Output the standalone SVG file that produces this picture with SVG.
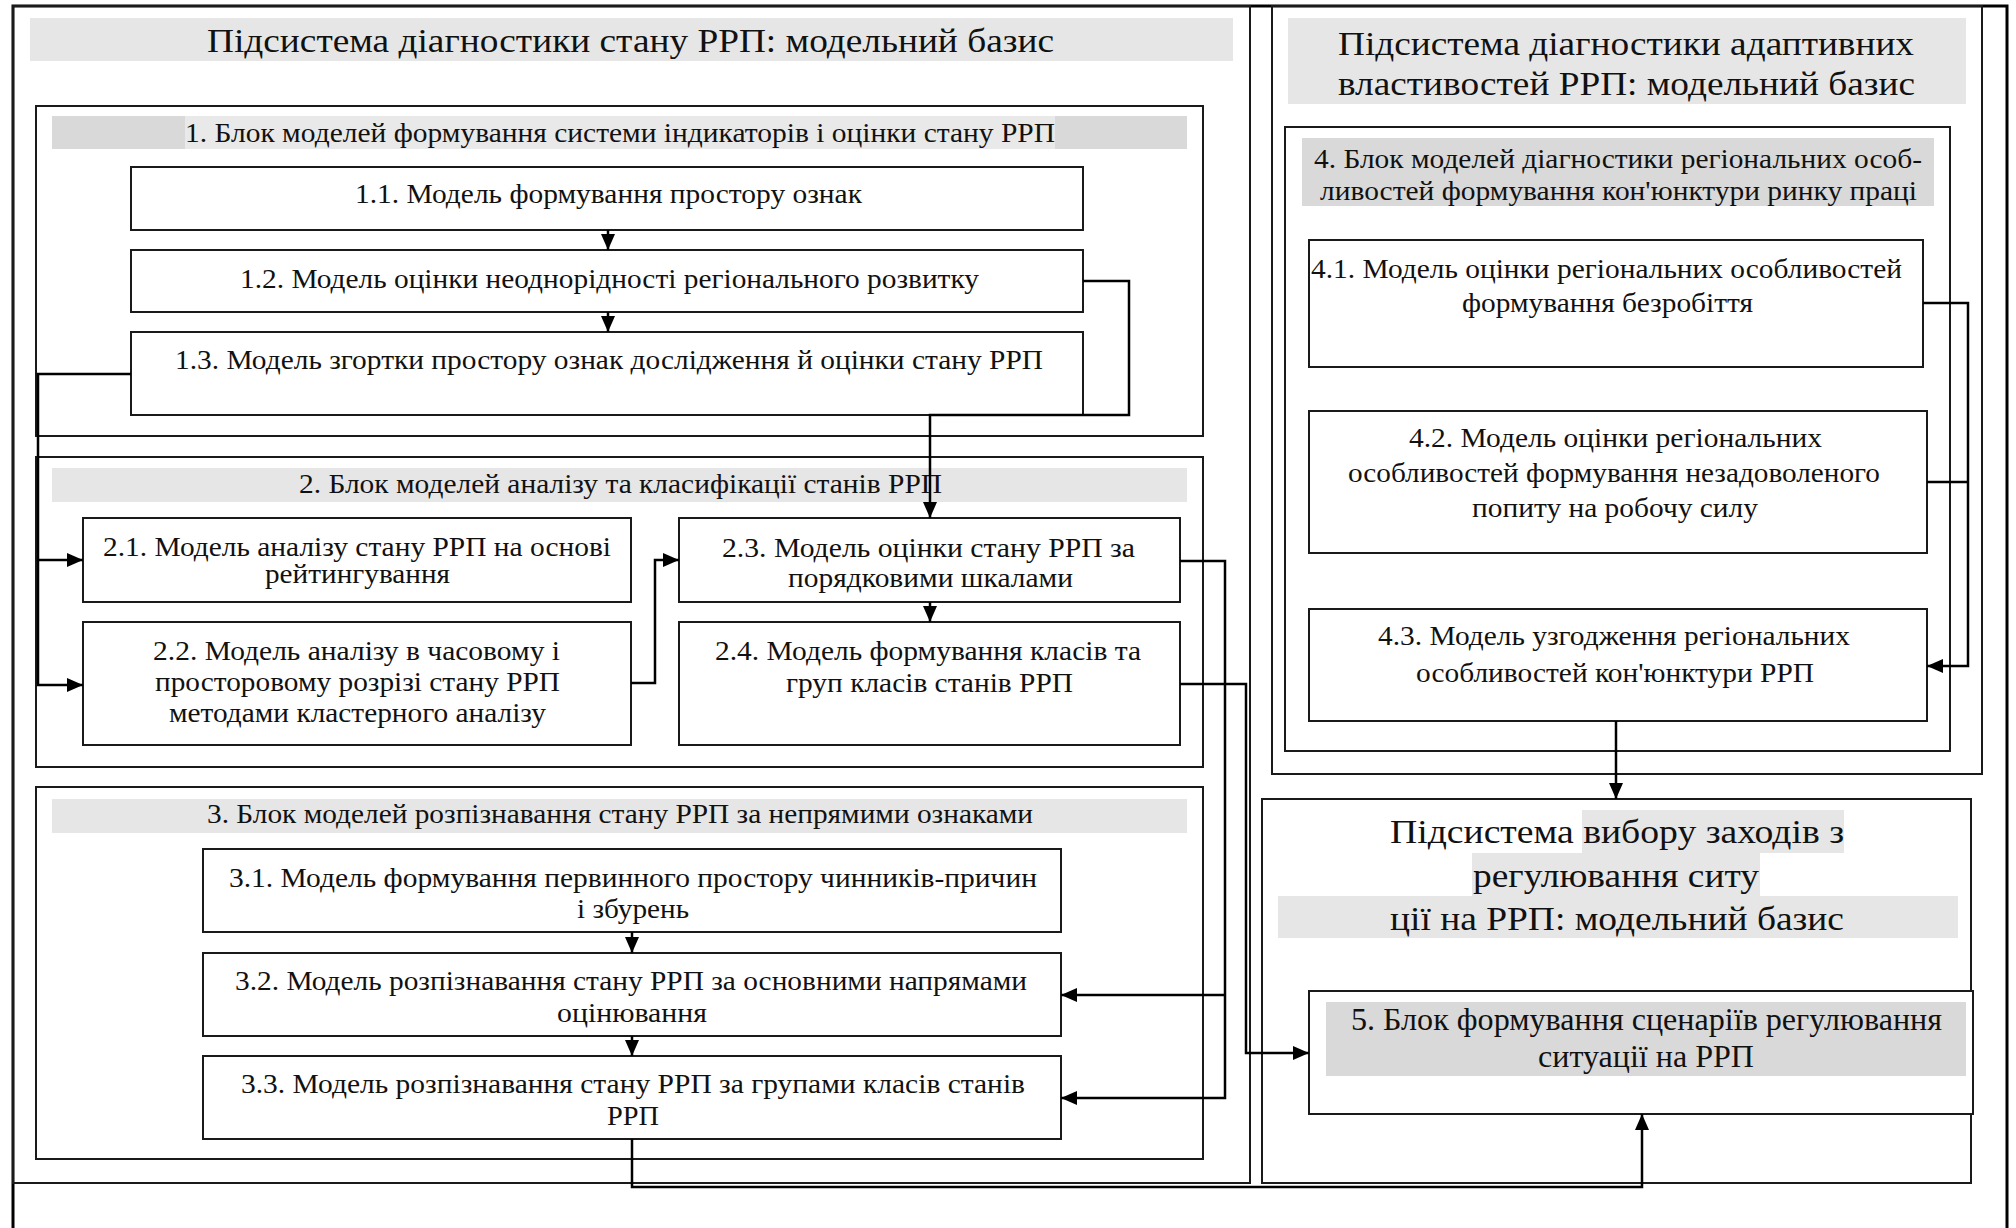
<svg xmlns="http://www.w3.org/2000/svg" width="2016" height="1228" viewBox="0 0 2016 1228">
<defs>
<style>
text{font-family:"Liberation Serif","Times New Roman",serif;fill:#111;text-anchor:middle}
.t{font-size:34px}
.b{font-size:27px}
.r{font-size:28px}
.f{font-size:31px}
.box{fill:#fff;stroke:#1a1a1a;stroke-width:2}
.blk{fill:none;stroke:#1a1a1a;stroke-width:2}
.g1{fill:#e6e6e6}
.g2{fill:#d9d9d9}
.g3{fill:#e9e9e9}
.c{fill:none;stroke:#000;stroke-width:2.5}
.ca{fill:none;stroke:#000;stroke-width:2.5;marker-end:url(#ah)}
</style>
<marker id="ah" markerUnits="userSpaceOnUse" markerWidth="16" markerHeight="14" refX="16" refY="7" orient="auto"><path d="M0,0 L16,7 L0,14 z" fill="#000"/></marker>
</defs>
<rect width="2016" height="1228" fill="#fff"/>

<g id="frame">
<path d="M13,1228 V6 H2007 V1228" fill="none" stroke="#000" stroke-width="3"/>
</g>

<g id="subsystem-left">
<rect class="blk" x="13" y="6" width="1237" height="1177"/>
<rect class="g1" x="30" y="18" width="1203" height="43"/>
<text class="t" x="630.5" y="52" textLength="847" lengthAdjust="spacingAndGlyphs">Підсистема діагностики стану РРП: модельний базис</text>
</g>

<g id="block1">
<rect class="blk" x="36" y="106" width="1167" height="330"/>
<rect class="g2" x="52" y="116" width="1135" height="33"/>
<rect class="g3" x="185" y="116" width="870" height="33"/>
<text class="b" x="620" y="142" textLength="870" lengthAdjust="spacingAndGlyphs">1. Блок моделей формування системи індикаторів і оцінки стану РРП</text>
</g>
<g id="n11"><rect class="box" x="131" y="167" width="952" height="63"/><text class="b" x="608.5" y="203" textLength="507" lengthAdjust="spacingAndGlyphs">1.1. Модель формування простору ознак</text></g>
<g id="n12"><rect class="box" x="131" y="250" width="952" height="62"/><text class="b" x="609.5" y="288" textLength="739" lengthAdjust="spacingAndGlyphs">1.2. Модель оцінки неоднорідності регіонального розвитку</text></g>
<g id="n13"><rect class="box" x="131" y="332" width="952" height="83"/><text class="b" x="609" y="369" textLength="868" lengthAdjust="spacingAndGlyphs">1.3. Модель згортки простору ознак дослідження й оцінки стану РРП</text></g>

<g id="block2">
<rect class="blk" x="36" y="457" width="1167" height="310"/>
<rect class="g1" x="52" y="468" width="1135" height="34"/>
<text class="b" x="620.5" y="493" textLength="643" lengthAdjust="spacingAndGlyphs">2. Блок моделей аналізу та класифікації станів РРП</text>
</g>
<g id="n21"><rect class="box" x="83" y="518" width="548" height="84"/><text class="b" x="357" y="556" textLength="508" lengthAdjust="spacingAndGlyphs">2.1. Модель аналізу стану РРП на основі</text><text class="b" x="357.5" y="583" textLength="185" lengthAdjust="spacingAndGlyphs">рейтингування</text></g>
<g id="n22"><rect class="box" x="83" y="622" width="548" height="123"/><text class="b" x="356.5" y="660" textLength="407" lengthAdjust="spacingAndGlyphs">2.2. Модель аналізу в часовому і</text><text class="b" x="357.5" y="691" textLength="405" lengthAdjust="spacingAndGlyphs">просторовому розрізі стану РРП</text><text class="b" x="357.5" y="722" textLength="377" lengthAdjust="spacingAndGlyphs">методами кластерного аналізу</text></g>
<g id="n23"><rect class="box" x="679" y="518" width="501" height="84"/><text class="b" x="928.5" y="557" textLength="413" lengthAdjust="spacingAndGlyphs">2.3. Модель оцінки стану РРП за</text><text class="b" x="930.5" y="587" textLength="285" lengthAdjust="spacingAndGlyphs">порядковими шкалами</text></g>
<g id="n24"><rect class="box" x="679" y="622" width="501" height="123"/><text class="b" x="928" y="660" textLength="426" lengthAdjust="spacingAndGlyphs">2.4. Модель формування класів та</text><text class="b" x="929.5" y="692" textLength="287" lengthAdjust="spacingAndGlyphs">груп класів станів РРП</text></g>

<g id="block3">
<rect class="blk" x="36" y="787" width="1167" height="372"/>
<rect class="g1" x="52" y="799" width="1135" height="34"/>
<text class="b" x="620" y="823" textLength="826" lengthAdjust="spacingAndGlyphs">3. Блок моделей розпізнавання стану РРП за непрямими ознаками</text>
</g>
<g id="n31"><rect class="box" x="203" y="849" width="858" height="83"/><text class="b" x="633" y="887" textLength="808" lengthAdjust="spacingAndGlyphs">3.1. Модель формування первинного простору чинників-причин</text><text class="b" x="633" y="918" textLength="112" lengthAdjust="spacingAndGlyphs">і збурень</text></g>
<g id="n32"><rect class="box" x="203" y="953" width="858" height="83"/><text class="b" x="631" y="990" textLength="792" lengthAdjust="spacingAndGlyphs">3.2. Модель розпізнавання стану РРП за основними напрямами</text><text class="b" x="632" y="1022" textLength="150" lengthAdjust="spacingAndGlyphs">оцінювання</text></g>
<g id="n33"><rect class="box" x="203" y="1056" width="858" height="83"/><text class="b" x="633" y="1093" textLength="784" lengthAdjust="spacingAndGlyphs">3.3. Модель розпізнавання стану РРП за групами класів станів</text><text class="b" x="633" y="1125" textLength="52" lengthAdjust="spacingAndGlyphs">РРП</text></g>

<g id="subsystem-right">
<rect class="blk" x="1272" y="6" width="710" height="768"/>
<rect class="g1" x="1288" y="18" width="678" height="86"/>
<text class="t" x="1626" y="55" textLength="576" lengthAdjust="spacingAndGlyphs">Підсистема діагностики адаптивних</text>
<text class="t" x="1626.5" y="95" textLength="577" lengthAdjust="spacingAndGlyphs">властивостей РРП: модельний базис</text>
</g>
<g id="block4">
<rect class="blk" x="1285" y="127" width="665" height="624"/>
<rect class="g2" x="1302" y="138" width="632" height="68"/>
<text class="r" x="1618" y="168" textLength="608" lengthAdjust="spacingAndGlyphs">4. Блок моделей діагностики регіональних особ-</text>
<text class="r" x="1618.5" y="200" textLength="597" lengthAdjust="spacingAndGlyphs">ливостей формування кон'юнктури ринку праці</text>
</g>
<g id="n41"><rect class="box" x="1309" y="240" width="614" height="127"/><text class="r" x="1606.5" y="278" textLength="591" lengthAdjust="spacingAndGlyphs">4.1. Модель оцінки регіональних особливостей</text><text class="r" x="1607.5" y="312" textLength="291" lengthAdjust="spacingAndGlyphs">формування безробіття</text></g>
<g id="n42"><rect class="box" x="1309" y="411" width="618" height="142"/><text class="r" x="1615.5" y="447" textLength="413" lengthAdjust="spacingAndGlyphs">4.2. Модель оцінки регіональних</text><text class="r" x="1614" y="482" textLength="532" lengthAdjust="spacingAndGlyphs">особливостей формування незадоволеного</text><text class="r" x="1615" y="517" textLength="286" lengthAdjust="spacingAndGlyphs">попиту на робочу силу</text></g>
<g id="n43"><rect class="box" x="1309" y="609" width="618" height="112"/><text class="r" x="1614" y="645" textLength="472" lengthAdjust="spacingAndGlyphs">4.3. Модель узгодження регіональних</text><text class="r" x="1615" y="682" textLength="398" lengthAdjust="spacingAndGlyphs">особливостей кон'юнктури РРП</text></g>

<g id="subsystem-5">
<rect class="blk" x="1262" y="799" width="709" height="384"/>
<rect class="g1" x="1582" y="810" width="262" height="43"/>
<rect class="g1" x="1472" y="853" width="288" height="43"/>
<rect class="g1" x="1278" y="896" width="680" height="42"/>
<text class="t" x="1617" y="843" textLength="454" lengthAdjust="spacingAndGlyphs">Підсистема вибору заходів з</text>
<text class="t" x="1616" y="887" textLength="286" lengthAdjust="spacingAndGlyphs">регулювання ситу</text>
<text class="t" x="1617" y="930" textLength="454" lengthAdjust="spacingAndGlyphs">ції на РРП: модельний базис</text>
</g>
<g id="n5">
<rect class="box" x="1309" y="991" width="664" height="123"/>
<rect class="g2" x="1326" y="1002" width="640" height="74"/>
<text class="f" x="1646.5" y="1030" textLength="591" lengthAdjust="spacingAndGlyphs">5. Блок формування сценаріїв регулювання</text>
<text class="f" x="1646" y="1067" textLength="216" lengthAdjust="spacingAndGlyphs">ситуації на РРП</text>
</g>

<g id="connectors">
<path class="ca" d="M608,230 V250"/>
<path class="ca" d="M608,312 V332"/>
<path class="ca" d="M1083,281 H1129 V415 H930 V518"/>
<path class="ca" d="M131,374 H38 V560 H83"/>
<path class="ca" d="M38,560 V685 H83"/>
<path class="ca" d="M631,683 H655 V560 H679"/>
<path class="ca" d="M930,602 V622"/>
<path class="ca" d="M1180,561 H1225 V1098 H1061"/>
<path class="ca" d="M1225,995 H1061"/>
<path class="ca" d="M1180,684 H1246 V1053 H1309"/>
<path class="ca" d="M632,932 V953"/>
<path class="ca" d="M632,1036 V1056"/>
<path class="ca" d="M632,1139 V1187 H1642 V1114"/>
<path class="ca" d="M1923,303 H1968 V666 H1927"/>
<path class="c" d="M1927,482 H1968"/>
<path class="ca" d="M1616,721 V799"/>
</g>
</svg>
